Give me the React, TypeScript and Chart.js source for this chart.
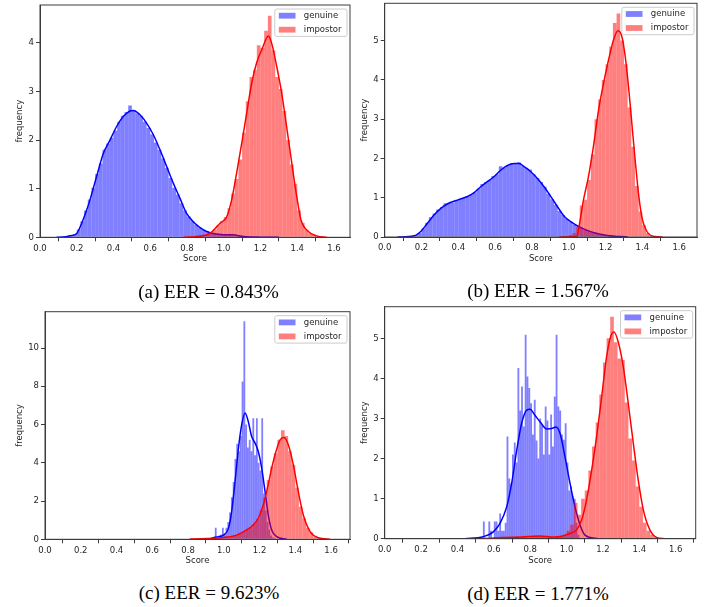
import React, { useEffect, useRef } from 'react';
import { Chart, registerables } from 'chart.js';
Chart.register(...registerables);

// ---------- shared labels ----------
const seriesNames = ['genuine', 'impostor'];
const xTitle = 'Score';
const yTitle = 'frequency';
const captions = ['(a) EER = 0.843%', '(b) EER = 1.567%', '(c) EER = 9.623%', '(d) EER = 1.771%'];

// ---------- panel (a) ----------
const aGenBinStart = 0.10;
const aGenBinWidth = 0.02;
const aGenHist = [0.01, 0.01, 0.02, 0.04, 0.07, 0.16, 0.33, 0.55, 0.78, 1.02,
  1.3, 1.52, 1.8, 1.93, 2.05, 2.2, 2.38, 2.5, 2.58, 2.71,
  2.62, 2.55, 2.5, 2.38, 2.25, 2.12, 1.95, 1.8, 1.62, 1.43,
  1.22, 1.02, 0.88, 0.7, 0.55, 0.43, 0.33, 0.26, 0.2, 0.15,
  0.12, 0.09, 0.08, 0.07, 0.06, 0.06, 0.06, 0.05, 0.04, 0.03,
  0.02, 0.01, 0.01, 0.01, 0.005, 0.005, 0.005, 0.003, 0.003, 0.003];
const aImpBinStart = 0.78;
const aImpBinWidth = 0.02;
const aImpHist = [0.01, 0.01, 0.02, 0.03, 0.04, 0.05, 0.07, 0.11, 0.16, 0.25,
  0.33, 0.42, 0.6, 0.9, 1.2, 1.6, 2.15, 2.8, 3.3, 3.45,
  3.95, 3.9, 4.25, 4.56, 3.85, 3.3, 3.05, 2.6, 2.0, 1.5,
  1.1, 0.55, 0.3, 0.15, 0.08, 0.05, 0.03, 0.015, 0.01];
const aGenKdeX = [0.09, 0.14, 0.163, 0.2, 0.227, 0.254, 0.272, 0.308, 0.345, 0.381, 0.417, 0.454, 0.49, 0.508, 0.544, 0.58, 0.617, 0.653, 0.689, 0.726, 0.762, 0.798, 0.834, 0.871, 0.907, 0.943, 1.0, 1.05, 1.107, 1.2, 1.3];
const aGenKdeY = [0, 0.01, 0.03, 0.08, 0.29, 0.56, 0.77, 1.25, 1.73, 2.0, 2.28, 2.49, 2.6, 2.61, 2.52, 2.35, 2.11, 1.8, 1.46, 1.11, 0.8, 0.49, 0.32, 0.2, 0.12, 0.08, 0.055, 0.05, 0.015, 0.003, 0];
const aImpKdeX = [0.78, 0.87, 0.925, 0.98, 1.016, 1.043, 1.07, 1.098, 1.125, 1.152, 1.179, 1.207, 1.243, 1.26, 1.288, 1.315, 1.342, 1.37, 1.397, 1.42, 1.46, 1.505, 1.56];
const aImpKdeY = [0, 0.02, 0.08, 0.29, 0.42, 0.77, 1.32, 1.94, 2.56, 3.17, 3.59, 3.86, 4.14, 4.0, 3.52, 2.97, 2.28, 1.53, 0.84, 0.36, 0.12, 0.03, 0];

// ---------- panel (b) ----------
const bGenBinStart = 0.06;
const bGenBinWidth = 0.02;
const bGenHist = [0, 0.003, 0.005, 0.01, 0.02, 0.05, 0.1, 0.22, 0.36, 0.5,
  0.6, 0.7, 0.76, 0.86, 0.87, 0.88, 0.95, 0.97, 1.0, 1.03,
  1.08, 1.14, 1.23, 1.35, 1.4, 1.45, 1.55, 1.6, 1.8, 1.76,
  1.82, 1.88, 1.87, 1.9, 1.8, 1.76, 1.72, 1.6, 1.5, 1.4,
  1.28, 1.1, 0.96, 0.82, 0.66, 0.56, 0.46, 0.39, 0.32, 0.27,
  0.23, 0.19, 0.15, 0.12, 0.09, 0.07, 0.05, 0.04, 0.03, 0.02,
  0.01, 0.005, 0.003];
const bImpBinStart = 0.94;
const bImpBinWidth = 0.02;
const bImpHist = [0.005, 0.01, 0.02, 0.05, 0.1, 0.25, 0.8, 0.95, 1.45, 2.1,
  3.0, 3.5, 4.0, 4.4, 4.85, 5.45, 5.69, 5.0, 4.4, 3.3,
  2.3, 1.3, 0.65, 0.3, 0.1, 0.03, 0.01, 0.005];
const bGenKdeX = [0.07, 0.16, 0.196, 0.232, 0.268, 0.305, 0.34, 0.395, 0.45, 0.486, 0.522, 0.558, 0.595, 0.63, 0.667, 0.703, 0.73, 0.758, 0.794, 0.83, 0.866, 0.903, 0.939, 0.975, 1.011, 1.048, 1.084, 1.138, 1.21, 1.32];
const bGenKdeY = [0, 0.03, 0.14, 0.35, 0.56, 0.73, 0.84, 0.94, 1.03, 1.13, 1.28, 1.41, 1.54, 1.7, 1.82, 1.87, 1.87, 1.79, 1.66, 1.49, 1.28, 1.03, 0.77, 0.53, 0.39, 0.28, 0.2, 0.11, 0.04, 0];
const bImpKdeX = [0.95, 1.044, 1.062, 1.08, 1.107, 1.134, 1.162, 1.189, 1.216, 1.243, 1.267, 1.289, 1.307, 1.325, 1.343, 1.361, 1.379, 1.397, 1.425, 1.47, 1.51];
const bImpKdeY = [0, 0.01, 0.43, 0.94, 1.53, 2.3, 3.23, 3.91, 4.5, 5.01, 5.25, 5.1, 4.59, 3.82, 2.89, 1.96, 1.11, 0.52, 0.14, 0.01, 0];

// ---------- panel (c) ----------
const cGenBinStart = 0.93;
const cGenBinWidth = 0.01;
const cGenHist = [0.05, 0.1, 0.6, 0.1, 0.2, 0.25, 0.6, 0.3, 0.6, 0.9,
  1.4, 2.2, 3.0, 4.2, 5.0, 4.6, 5.4, 8.25, 11.4, 6.0,
  4.8, 5.2, 4.6, 6.33, 4.4, 6.33, 4.0, 3.6, 6.33, 2.4,
  1.5, 0.9, 0.5, 0.2, 0.1, 0.05];
const cImpBinStart = 0.80;
const cImpBinWidth = 0.02;
const cImpHist = [0.03, 0.04, 0.05, 0.05, 0.06, 0.07, 0.08, 0.09, 0.1, 0.12,
  0.14, 0.16, 0.18, 0.22, 0.3, 0.38, 0.5, 0.62, 0.8, 1.05,
  1.55, 2.2, 3.1, 3.8, 4.5, 5.2, 5.7, 5.4, 4.6, 3.9,
  2.7, 1.7, 1.1, 0.6, 0.35, 0.15, 0.08, 0.04, 0.02];
const cGenKdeX = [0.92, 0.945, 0.97, 0.998, 1.026, 1.044, 1.063, 1.082, 1.1, 1.119, 1.137, 1.156, 1.175, 1.193, 1.212, 1.231, 1.249, 1.268, 1.296, 1.352];
const cGenKdeY = [0, 0.1, 0.14, 0.22, 0.57, 1.45, 3.02, 4.76, 5.98, 6.6, 6.16, 5.37, 5.03, 4.59, 3.72, 2.49, 1.27, 0.49, 0.14, 0];
const cImpKdeX = [0.81, 0.998, 1.072, 1.128, 1.165, 1.193, 1.221, 1.244, 1.268, 1.292, 1.315, 1.337, 1.361, 1.389, 1.417, 1.445, 1.483, 1.529, 1.594];
const cImpKdeY = [0.01, 0.1, 0.22, 0.49, 0.75, 1.1, 1.8, 2.67, 3.72, 4.59, 5.2, 5.32, 4.94, 3.89, 2.49, 1.27, 0.4, 0.08, 0];

// ---------- panel (d) ----------
const dGenBinStart = 0.54;
const dGenBinWidth = 0.01;
const dGenHist = [0.43, 0, 0, 0.43, 0.2, 0, 0.43, 0.43, 0.2, 0.63,
  0.2, 0.2, 0.4, 2.55, 1.5, 1.38, 2.1, 2.4, 1.9, 4.26,
  3.2, 3.8, 2.8, 5.09, 4.05, 3.76, 3.38, 2.6, 3.47, 2.45,
  2.0, 3.0, 2.83, 2.1, 3.3, 2.95, 2.1, 3.1, 2.3, 3.55,
  5.09, 3.3, 3.2, 2.6, 2.47, 2.88, 1.9, 1.2, 1.3, 1.05,
  1.0, 0.4, 0.1];
const dImpBinStart = 0.52;
const dImpBinWidth = 0.02;
const dImpHist = [0.02, 0.0, 0.02, 0.02, 0.04, 0.02, 0.04, 0.05, 0.02, 0.04,
  0.06, 0.04, 0.05, 0.03, 0.06, 0.08, 0.07, 0.05, 0.04, 0.04,
  0.03, 0.05, 0.06, 0.1, 0.2, 0.35, 0.9, 0.6, 1.0, 1.2,
  1.7, 2.3, 2.9, 3.6, 4.4, 5.0, 5.54, 4.9, 4.5, 4.46,
  3.4, 2.5, 1.95, 1.3, 0.8, 0.4, 0.2, 0.1, 0.03, 0.01,
  0.005];
const dGenKdeX = [0.44, 0.542, 0.597, 0.634, 0.671, 0.698, 0.726, 0.753, 0.781, 0.799, 0.826, 0.854, 0.89, 0.918, 0.942, 0.964, 0.991, 1.019, 1.046, 1.074, 1.101, 1.174];
const dGenKdeY = [0, 0.05, 0.17, 0.38, 0.8, 1.38, 2.21, 2.88, 3.21, 3.23, 3.08, 2.92, 2.74, 2.75, 2.79, 2.63, 2.05, 1.38, 0.8, 0.34, 0.09, 0];
const dImpKdeX = [0.53, 0.6, 0.671, 0.75, 0.854, 0.93, 1.02, 1.055, 1.083, 1.11, 1.138, 1.165, 1.193, 1.22, 1.242, 1.261, 1.284, 1.312, 1.339, 1.367, 1.394, 1.422, 1.458, 1.495, 1.54];
const dImpKdeY = [0, 0.02, 0.03, 0.04, 0.07, 0.04, 0.13, 0.22, 0.47, 0.97, 1.71, 2.54, 3.54, 4.54, 5.04, 5.16, 4.91, 4.29, 3.38, 2.38, 1.46, 0.72, 0.22, 0.03, 0];

// ---------- styling ----------
const FONT = '"DejaVu Sans", sans-serif';
const FS = 8.5;
const TEXT = '#262626';
const AXIS = '#3c3c3c';
const GEN_FILL = 'rgba(0,0,255,0.5)';
const IMP_FILL = 'rgba(255,0,0,0.5)';
const GEN_LINE = '#0000ff';
const IMP_LINE = '#ff0000';

type Series = {
  genStart: number; genWidth: number; genHist: number[];
  impStart: number; impWidth: number; impHist: number[];
  genKx: number[]; genKy: number[]; impKx: number[]; impKy: number[];
};

type Layout = {
  left: number; top: number; w: number; h: number;
  yAxisW: number; xAxisH: number; padTop: number; padRight: number;
  xMax: number; yMax: number; yStep: number;
  xTitlePad: number; yTitlePad: number;
  capX: number; capY: number;
};

const panelData: Series[] = [
  { genStart: aGenBinStart, genWidth: aGenBinWidth, genHist: aGenHist, impStart: aImpBinStart, impWidth: aImpBinWidth, impHist: aImpHist, genKx: aGenKdeX, genKy: aGenKdeY, impKx: aImpKdeX, impKy: aImpKdeY },
  { genStart: bGenBinStart, genWidth: bGenBinWidth, genHist: bGenHist, impStart: bImpBinStart, impWidth: bImpBinWidth, impHist: bImpHist, genKx: bGenKdeX, genKy: bGenKdeY, impKx: bImpKdeX, impKy: bImpKdeY },
  { genStart: cGenBinStart, genWidth: cGenBinWidth, genHist: cGenHist, impStart: cImpBinStart, impWidth: cImpBinWidth, impHist: cImpHist, genKx: cGenKdeX, genKy: cGenKdeY, impKx: cImpKdeX, impKy: cImpKdeY },
  { genStart: dGenBinStart, genWidth: dGenBinWidth, genHist: dGenHist, impStart: dImpBinStart, impWidth: dImpBinWidth, impHist: dImpHist, genKx: dGenKdeX, genKy: dGenKdeY, impKx: dImpKdeX, impKy: dImpKdeY },
];

const layouts: Layout[] = [
  { left: 0, top: 0, w: 354, h: 270, yAxisW: 40, xAxisH: 32.7, padTop: 5, padRight: 4, xMax: 1.687, yMax: 4.78, yStep: 1, xTitlePad: 5.9, yTitlePad: 14.9, capX: 208.5, capY: 280.6 },
  { left: 354, top: 0, w: 353, h: 270, yAxisW: 30.7, xAxisH: 33, padTop: 3.3, padRight: 10, xMax: 1.697, yMax: 5.95, yStep: 1, xTitlePad: 6.6, yTitlePad: 5.9, capX: 538, capY: 280 },
  { left: 0, top: 300, w: 354, h: 270, yAxisW: 45, xAxisH: 30.7, padTop: 11.7, padRight: 4, xMax: 1.706, yMax: 11.9, yStep: 2, xTitlePad: 3.9, yTitlePad: 14.9, capX: 209, capY: 582.3 },
  { left: 354, top: 300, w: 353, h: 270, yAxisW: 30.7, xAxisH: 31.3, padTop: 6.7, padRight: 11.3, xMax: 1.71, yMax: 5.79, yStep: 1, xTitlePad: 3.9, yTitlePad: 5.9, capX: 538, capY: 583 },
];

const toBars = (start: number, width: number, vals: number[]) =>
  vals.map((v, i) => ({ x: start + (i + 0.5) * width, y: v }));
const toCurve = (xs: number[], ys: number[]) => xs.map((x, i) => ({ x, y: ys[i] }));

const framePlugin = {
  id: 'mplFrame',
  afterDatasetsDraw(chart: any) {
    const { ctx, chartArea: a } = chart;
    ctx.save();
    ctx.strokeStyle = AXIS;
    ctx.lineWidth = 1;
    ctx.strokeRect(a.left, a.top, a.right - a.left, a.bottom - a.top);
    ctx.restore();
  },
};

const legendPlugin = {
  id: 'mplLegend',
  afterDraw(chart: any) {
    const { ctx, chartArea: a } = chart;
    const items = chart.data.datasets.filter((d: any) => d.type === 'bar');
    ctx.save();
    ctx.font = `${FS}px ${FONT}`;
    const tw = Math.max(...items.map((d: any) => ctx.measureText(d.label).width));
    const pad = 4, hl = 16.7, gap = 8.3, rowH = 14, hh = 5.8;
    const w = pad + hl + gap + tw + 5.5;
    const h = 27.4;
    const x0 = a.right - 3 - w;
    const y0 = a.top + 4;
    const r = 2;
    ctx.beginPath();
    ctx.moveTo(x0 + r, y0);
    ctx.arcTo(x0 + w, y0, x0 + w, y0 + h, r);
    ctx.arcTo(x0 + w, y0 + h, x0, y0 + h, r);
    ctx.arcTo(x0, y0 + h, x0, y0, r);
    ctx.arcTo(x0, y0, x0 + w, y0, r);
    ctx.closePath();
    ctx.fillStyle = 'rgba(255,255,255,0.8)';
    ctx.fill();
    ctx.strokeStyle = '#cccccc';
    ctx.lineWidth = 1;
    ctx.stroke();
    items.forEach((d: any, i: number) => {
      const cy = y0 + 6.7 + i * rowH;
      ctx.fillStyle = d.backgroundColor;
      ctx.fillRect(x0 + pad, cy - hh / 2, hl, hh);
      ctx.fillStyle = TEXT;
      ctx.textBaseline = 'middle';
      ctx.textAlign = 'left';
      ctx.fillText(d.label, x0 + pad + hl + gap, cy);
    });
    ctx.restore();
  },
};

function Panel({ s, l }: { s: Series; l: Layout }) {
  const ref = useRef<HTMLCanvasElement>(null);
  useEffect(() => {
    const font = { family: FONT, size: FS };
    const barCommon = {
      type: 'bar' as const, borderWidth: 0, barPercentage: 1, categoryPercentage: 1,
      grouped: false, inflateAmount: 0,
    };
    const lineCommon = {
      type: 'line' as const, borderWidth: 1.5, pointRadius: 0, fill: false,
      cubicInterpolationMode: 'monotone' as const, xAxisID: 'x',
    };
    const chart = new Chart(ref.current as HTMLCanvasElement, {
      type: 'bar',
      data: {
        datasets: [
          { ...barCommon, label: seriesNames[0], data: toBars(s.genStart, s.genWidth, s.genHist), xAxisID: 'x', backgroundColor: GEN_FILL, order: 4 },
          { ...lineCommon, label: seriesNames[0] + ' kde', data: toCurve(s.genKx, s.genKy), borderColor: GEN_LINE, order: 3 },
          { ...barCommon, label: seriesNames[1], data: toBars(s.impStart, s.impWidth, s.impHist), xAxisID: 'x2', backgroundColor: IMP_FILL, order: 2 },
          { ...lineCommon, label: seriesNames[1] + ' kde', data: toCurve(s.impKx, s.impKy), borderColor: IMP_LINE, order: 1 },
        ] as any,
      },
      options: {
        animation: false,
        responsive: false,
        devicePixelRatio: 1,
        layout: { padding: { left: 0, right: l.padRight, top: l.padTop, bottom: 0 } },
        plugins: { legend: { display: false }, tooltip: { enabled: false } },
        scales: {
          x: {
            type: 'linear', position: 'bottom', min: 0, max: l.xMax, offset: false,
            ticks: {
              stepSize: 0.2, includeBounds: false, autoSkip: false, maxRotation: 0,
              font, color: TEXT, padding: 2,
              callback: (v: any) => Number(v).toFixed(1),
            },
            grid: { drawOnChartArea: false, tickLength: 4, color: AXIS, lineWidth: 1 },
            border: { display: true, color: AXIS, width: 1 },
            title: { display: true, text: xTitle, font, color: TEXT, padding: { top: 0, bottom: l.xTitlePad } },
            afterFit: (sc: any) => { sc.height = l.xAxisH; sc.paddingLeft = 0; sc.paddingRight = 0; },
          },
          x2: {
            type: 'linear', axis: 'x', position: 'bottom', display: false, min: 0, max: l.xMax, offset: false,
          },
          y: {
            type: 'linear', position: 'left', min: 0, max: l.yMax,
            ticks: {
              stepSize: l.yStep, includeBounds: false, font, color: TEXT, padding: 2,
              callback: (v: any) => String(Math.round(Number(v))),
            },
            grid: { drawOnChartArea: false, tickLength: 4, color: AXIS, lineWidth: 1 },
            border: { display: true, color: AXIS, width: 1 },
            title: { display: true, text: yTitle, font, color: TEXT, padding: { top: l.yTitlePad, bottom: 0 } },
            afterFit: (sc: any) => { sc.width = l.yAxisW; sc.paddingTop = 0; sc.paddingBottom = 0; },
          },
        } as any,
      },
      plugins: [framePlugin, legendPlugin],
    });
    return () => chart.destroy();
  }, []);
  return (
    <canvas
      ref={ref}
      width={l.w}
      height={l.h}
      style={{ position: 'absolute', left: l.left, top: l.top, width: l.w, height: l.h }}
    />
  );
}

export default function App() {
  return (
    <div style={{ position: 'absolute', left: 0, top: 0, width: 707, height: 607, background: '#fff', overflow: 'hidden' }}>
      {panelData.map((s, i) => (
        <Panel key={i} s={s} l={layouts[i]} />
      ))}
      {captions.map((c, i) => (
        <div
          key={'c' + i}
          style={{
            position: 'absolute', left: layouts[i].capX, top: layouts[i].capY,
            transform: 'translateX(-50%)', whiteSpace: 'nowrap',
            fontFamily: '"Liberation Serif", serif', fontSize: 19, lineHeight: '22px', color: '#000',
          }}
        >
          {c}
        </div>
      ))}
    </div>
  );
}
